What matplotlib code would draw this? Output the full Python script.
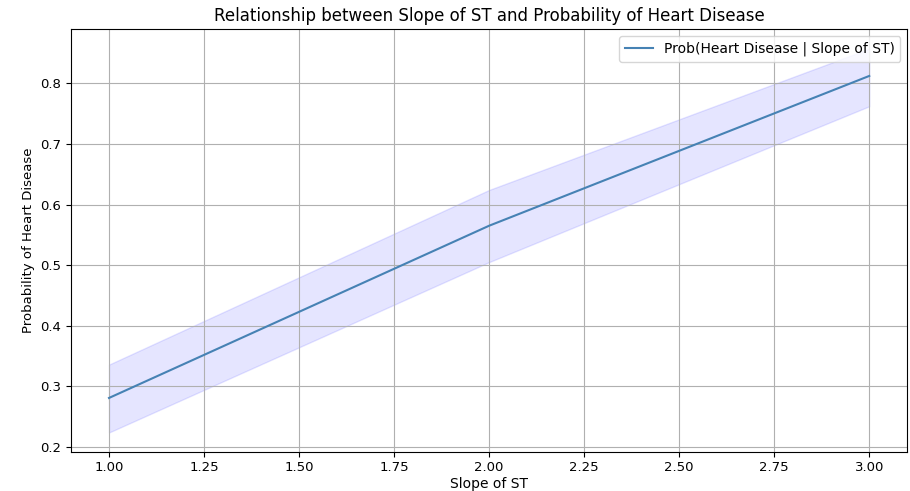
import numpy as np
import matplotlib
matplotlib.use("Agg")
import matplotlib.pyplot as plt

# Slope of ST values and estimated probabilities
slope_values = [1.0, 2.0, 3.0]
prob_mean = [0.281, 0.565, 0.812]
prob_lower = [0.224, 0.505, 0.762]
prob_upper = [0.336, 0.624, 0.857]

fig, ax = plt.subplots(figsize=(9.1, 4.91), dpi=100)

ax.plot(slope_values, prob_mean, color="steelblue",
        label="Prob(Heart Disease | Slope of ST)")
ax.fill_between(slope_values, prob_lower, prob_upper, color="blue", alpha=0.1)

ax.set_title("Relationship between Slope of ST and Probability of Heart Disease")
ax.set_xlabel("Slope of ST", labelpad=2)
ax.set_ylabel("Probability of Heart Disease", fontsize=9.5)
ax.tick_params(labelsize=9.5)
ax.legend(loc="upper right")
ax.grid(True)

fig.subplots_adjust(left=0.078, right=0.997, top=0.94, bottom=0.08)
fig.savefig("out.png")
